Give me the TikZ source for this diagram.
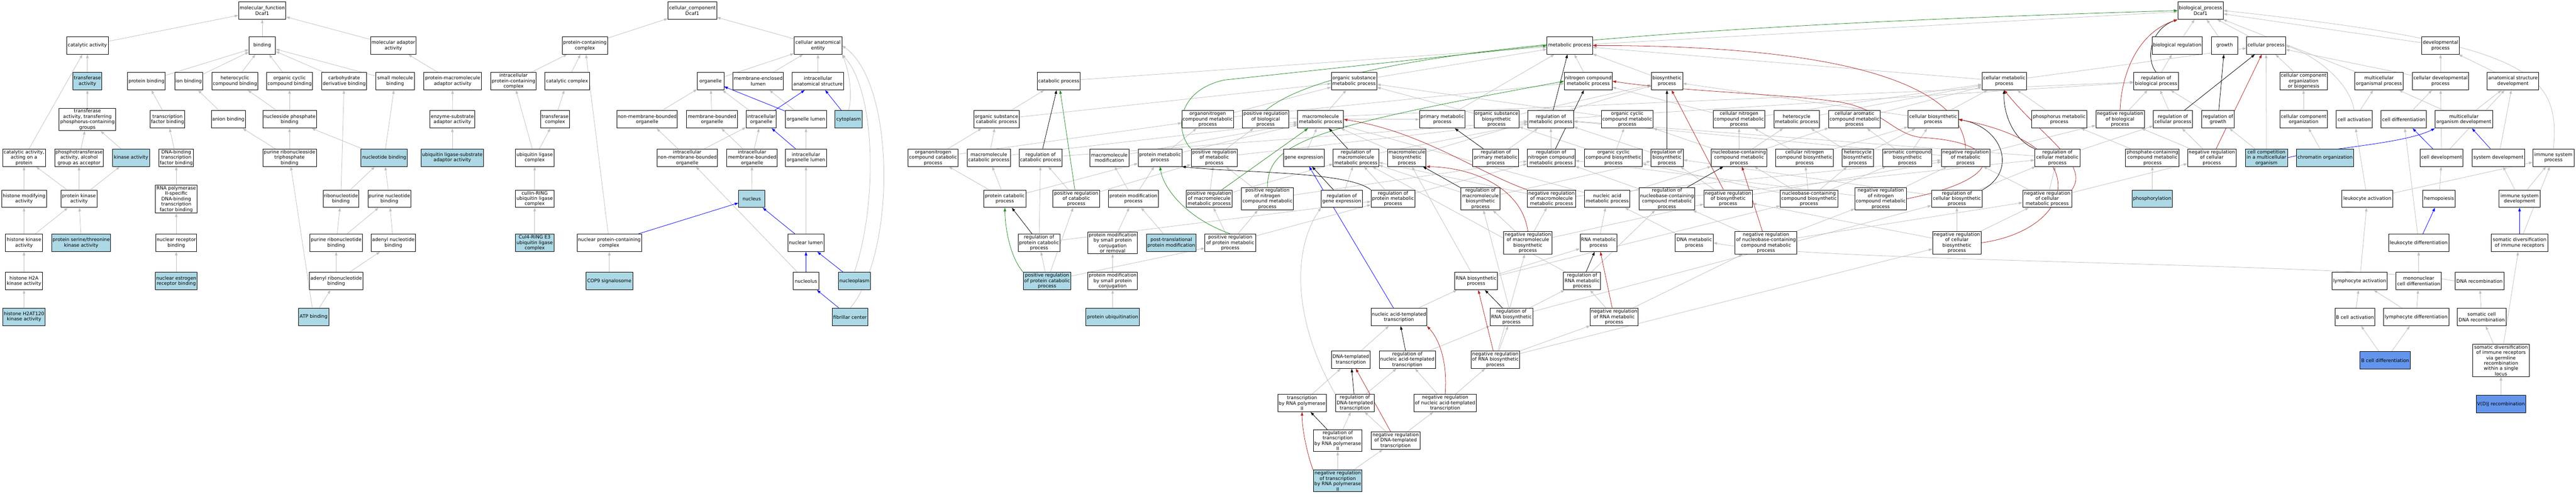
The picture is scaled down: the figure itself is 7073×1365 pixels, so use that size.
\documentclass[tikz,border=0pt]{standalone}
\usepackage{fontspec}
\setmainfont{DejaVu Sans}
\usetikzlibrary{arrows.meta}
\definecolor{lb}{HTML}{ADD8E6}
\definecolor{cfb}{HTML}{6495ED}
\definecolor{eg}{HTML}{C0C0C0}
\definecolor{egreen}{HTML}{228B22}
\definecolor{ered}{HTML}{B22222}
\definecolor{eblue}{HTML}{0000FF}
\pgfdeclarelayer{bg}
\pgfsetlayers{bg,main}
\newcommand{\gn}[6][]{\node[gbox,minimum width=#5pt,#1] (#2) at (#3,#4) {#6};}
\begin{document}
\begin{tikzpicture}[x=1pt,y=-1pt,
 gbox/.style={draw=black,line width=1.3pt,fill=white,rectangle,align=center,inner xsep=2pt,inner ysep=2.5pt,minimum height=48pt,font=\fontsize{13}{14.8}\selectfont},
 hl/.style={fill=lb}, hlb/.style={fill=cfb},
 eisa/.style={draw=eg,line width=1.1pt,-{Triangle[length=10pt,width=7pt]}},
 ereg/.style={draw=black,line width=1.1pt,-{Triangle[length=10pt,width=7pt]}},
 epos/.style={draw=egreen,line width=1.1pt,-{Triangle[length=10pt,width=7pt]}},
 eneg/.style={draw=ered,line width=1.1pt,-{Triangle[length=10pt,width=7pt]}},
 epart/.style={draw=eblue,line width=1.1pt,-{Triangle[length=10pt,width=7pt]}}]
\useasboundingbox (0,0) rectangle (7073,1365);
% ---------------- molecular function
\gn{mf}{720}{29}{130}{molecular\_function\\Dcaf1}
\gn{catact}{240}{125}{115}{catalytic activity}
\gn{binding}{720}{125}{73}{binding}
\gn{molad}{1080}{125}{125}{molecular adaptor\\activity}
\gn[hl]{transf}{240}{223}{80}{transferase\\activity}
\gn{protbind}{402}{223}{104}{protein binding}
\gn{ionbind}{518}{223}{77}{ion binding}
\gn{hetbind}{645}{223}{126}{heterocyclic\\compound binding}
\gn{orgcycbind}{795}{223}{126}{organic cyclic\\compound binding}
\gn{carbbind}{945}{223}{123}{carbohydrate\\derivative binding}
\gn{smallbind}{1085}{223}{107}{small molecule\\binding}
\gn{pmadapt}{1243}{223}{159}{protein-macromolecule\\adaptor activity}
\gn{transfP}{240}{328}{155}{transferase\\activity, transferring\\phosphorus-containing\\groups}
\gn{tfbind}{460}{328}{95}{transcription\\factor binding}
\gn{anionbind}{627}{328}{93}{anion binding}
\gn{nucphosbind}{795}{328}{147}{nucleoside phosphate\\binding}
\gn{esadapt}{1242}{328}{123}{enzyme-substrate\\adaptor activity}
\gn{catprot}{66}{433}{117}{catalytic activity,\\acting on a\\protein}
\gn{phosalc}{217}{433}{133}{phosphotransferase\\activity, alcohol\\group as acceptor}
\gn[hl]{kinase}{360}{433}{102}{kinase activity}
\gn{dnatf}{484}{433}{95}{DNA-binding\\transcription\\factor binding}
\gn{purNTPbind}{795}{433}{147}{purine ribonucleoside\\triphosphate\\binding}
\gn[hl]{ntbind}{1055}{433}{127}{nucleotide binding}
\gn[hl]{ulsadapt}{1242}{433}{172}{ubiquitin ligase-substrate\\adaptor activity}
\gn{histmod}{66}{546}{123}{histone modifying\\activity}
\gn{protkin}{217}{546}{98}{protein kinase\\activity}
\gn{rnap2tf}{484}{547}{114}{RNA polymerase\\II-specific\\DNA-binding\\transcription\\factor binding}
\gn{ribontbind}{936}{546}{98}{ribonucleotide\\binding}
\gn{purntbind}{1069}{546}{118}{purine nucleotide\\binding}
\gn{histkin}{66}{667}{101}{histone kinase\\activity}
\gn[hl]{serthr}{223}{667}{162}{protein serine/threonine\\kinase activity}
\gn{nrbind}{484}{667}{111}{nuclear receptor\\binding}
\gn{purribontbind}{923}{667}{143}{purine ribonucleotide\\binding}
\gn{adenntbind}{1080}{667}{123}{adenyl nucleotide\\binding}
\gn{h2akin}{66}{772}{101}{histone H2A\\kinase activity}
\gn[hl]{nerbind}{484}{772}{115}{nuclear estrogen\\receptor binding}
\gn{adenribontbind}{923}{772}{147}{adenyl ribonucleotide\\binding}
\gn[hl]{h2at120}{66}{870}{116}{histone H2AT120\\kinase activity}
\gn[hl]{atpbind}{861}{870}{84}{ATP binding}
% ---------------- cellular component
\gn{cc}{1901}{29}{134}{cellular\_component\\Dcaf1}
\gn{pcc}{1606}{125}{125}{protein-containing\\complex}
\gn{cae}{2246}{125}{131}{cellular anatomical\\entity}
\gn{ipcc}{1410}{223}{125}{intracellular\\protein-containing\\complex}
\gn{catcomp}{1557}{223}{123}{catalytic complex}
\gn{organelle}{1951}{223}{73}{organelle}
\gn{mel}{2082}{223}{139}{membrane-enclosed\\lumen}
\gn{ias}{2246}{223}{141}{intracellular\\anatomical structure}
\gn{trcomp}{1524}{328}{80}{transferase\\complex}
\gn{nmbo}{1777}{328}{166}{non-membrane-bounded\\organelle}
\gn{mbo}{1955}{328}{139}{membrane-bounded\\organelle}
\gn{io}{2090}{328}{83}{intracellular\\organelle}
\gn{olumen}{2213}{328}{113}{organelle lumen}
\gn[hl]{cytoplasm}{2330}{328}{75}{cytoplasm}
\gn{ulc}{1468}{433}{106}{ubiquitin ligase\\complex}
\gn{inmbo}{1887}{433}{166}{intracellular\\non-membrane-bounded\\organelle}
\gn{imbo}{2065}{433}{139}{intracellular\\membrane-bounded\\organelle}
\gn{iol}{2213}{433}{113}{intracellular\\organelle lumen}
\gn{crulc}{1468}{546}{106}{cullin-RING\\ubiquitin ligase\\complex}
\gn[hl]{nucleus}{2064}{546}{72}{nucleus}
\gn[hl]{cul4}{1468}{667}{106}{Cul4-RING E3\\ubiquitin ligase\\complex}
\gn{npcc}{1673}{667}{177}{nuclear protein-containing\\complex}
\gn{nlumen}{2213}{667}{99}{nuclear lumen}
\gn[hl]{cop9}{1673}{772}{129}{COP9 signalosome}
\gn{nucleolus}{2213}{772}{72}{nucleolus}
\gn[hl]{nucleoplasm}{2346}{772}{89}{nucleoplasm}
\gn[hl]{fibcen}{2334}{871}{97}{fibrillar center}
% ---------------- biological process
\gn{bp}{6042}{29}{125}{biological\_process\\Dcaf1}
\gn{mp}{4310}{125}{125}{metabolic process}
\gn{bioreg}{5978}{125}{138}{biological regulation}
\gn{growth}{6108}{125}{72}{growth}
\gn{cellproc}{6222}{125}{107}{cellular process}
\gn{devproc}{6701}{125}{104}{developmental\\process}
\gn{catab}{2907}{223}{118}{catabolic process}
\gn{osmp}{3718}{223}{125}{organic substance\\metabolic process}
\gn{ncmp}{4361}{223}{131}{nitrogen compound\\metabolic process}
\gn{biosyn}{4577}{223}{86}{biosynthetic\\process}
\gn{cmp}{5503}{223}{122}{cellular metabolic\\process}
\gn{regbp}{5920}{223}{122}{regulation of\\biological process}
\gn{ccob}{6325}{223}{131}{cellular component\\organization\\or biogenesis}
\gn{mop}{6532}{223}{133}{multicellular\\organismal process}
\gn{cdp}{6701}{223}{155}{cellular developmental\\process}
\gn{asd}{6900}{223}{142}{anatomical structure\\development}
\gn{oscp}{2736}{328}{124}{organic substance\\catabolic process}
\gn{oncmp}{3316}{328}{142}{organonitrogen\\compound metabolic\\process}
\gn{prbp}{3475}{328}{127}{positive regulation\\of biological\\process}
\gn{mmp}{3626}{328}{126}{macromolecule\\metabolic process}
\gn{pmp}{3960}{328}{125}{primary metabolic\\process}
\gn{osbp}{4109}{328}{122}{organic substance\\biosynthetic\\process}
\gn{rmp}{4258}{328}{125}{regulation of\\metabolic process}
\gn{occmp}{4468}{328}{142}{organic cyclic\\compound metabolic\\process}
\gn{cncmp}{4775}{328}{141}{cellular nitrogen\\compound metabolic\\process}
\gn{hmp}{4933}{328}{125}{heterocycle\\metabolic process}
\gn{camp}{5092}{328}{142}{cellular aromatic\\compound metabolic\\process}
\gn{cbp}{5308}{328}{138}{cellular biosynthetic\\process}
\gn{phosmp}{5654}{328}{151}{phosphorus metabolic\\process}
\gn{nrbp}{5821}{328}{133}{negative regulation\\of biological\\process}
\gn{rcp}{5966}{328}{107}{regulation of\\cellular process}
\gn{rgrowth}{6090}{328}{89}{regulation of\\growth}
\gn{cco}{6325}{328}{131}{cellular component\\organization}
\gn{cellact}{6464}{328}{98}{cell activation}
\gn{celldiff}{6600}{328}{125}{cell differentiation}
\gn{mod}{6765}{328}{158}{multicellular\\organism development}
\gn{onccp}{2562}{433}{137}{organonitrogen\\compound catabolic\\process}
\gn{mcp}{2715}{433}{118}{macromolecule\\catabolic process}
\gn{rcatp}{2857}{433}{117}{regulation of\\catabolic process}
\gn{mmod}{3046}{433}{107}{macromolecule\\modification}
\gn{protmp}{3185}{433}{120}{protein metabolic\\process}
\gn{prmp}{3334}{433}{127}{positive regulation\\of metabolic\\process}
\gn{geneexp}{3580}{433}{111}{gene expression}
\gn{rmmp}{3723}{433}{125}{regulation of\\macromolecule\\metabolic process}
\gn{mbp}{3863}{433}{105}{macromolecule\\biosynthetic\\process}
\gn{rpmp}{4107}{433}{126}{regulation of\\primary metabolic\\process}
\gn{rncmp}{4259}{433}{130}{regulation of\\nitrogen compound\\metabolic process}
\gn{occbp}{4430}{433}{158}{organic cyclic\\compound biosynthetic\\process}
\gn{rbp}{4577}{433}{89}{regulation of\\biosynthetic\\process}
\gn{nbcmp}{4775}{433}{152}{nucleobase-containing\\compound metabolic\\process}
\gn{cncbp}{4955}{433}{158}{cellular nitrogen\\compound biosynthetic\\process}
\gn{hbp}{5101}{433}{87}{heterocycle\\biosynthetic\\process}
\gn{acbp}{5237}{433}{135}{aromatic compound\\biosynthetic\\process}
\gn{nrmp}{5397}{433}{133}{negative regulation\\of metabolic\\process}
\gn{rcmp}{5649}{433}{124}{regulation of\\cellular metabolic\\process}
\gn{pccmp}{5910}{433}{147}{phosphate-containing\\compound metabolic\\process}
\gn{nrcp}{6073}{433}{133}{negative regulation\\of cellular\\process}
\gn[hl]{cellcomp}{6223}{433}{116}{cell competition\\in a multicellular\\organism}
\gn[hl]{chromorg}{6384}{433}{157}{chromatin organization}
\gn{celldev}{6704}{433}{118}{cell development}
\gn{sysdev}{6860}{433}{144}{system development}
\gn{isp}{7011}{433}{113}{immune system\\process}
\gn{protcat}{2759}{546}{115}{protein catabolic\\process}
\gn{prcatp}{2955}{546}{128}{positive regulation\\of catabolic\\process}
\gn{pmodp}{3112}{546}{136}{protein modification\\process}
\gn{prmmp}{3320}{546}{127}{positive regulation\\of macromolecule\\metabolic process}
\gn{prncmp}{3480}{546}{142}{positive regulation\\of nitrogen\\compound metabolic\\process}
\gn{rge}{3684}{546}{113}{regulation of\\gene expression}
\gn{rprotmp}{3825}{546}{121}{regulation of\\protein metabolic\\process}
\gn{rmbp}{4065}{546}{107}{regulation of\\macromolecule\\biosynthetic\\process}
\gn{nrmmp}{4260}{546}{132}{negative regulation\\of macromolecule\\metabolic process}
\gn{namp}{4413}{546}{124}{nucleic acid\\metabolic process}
\gn{rnbcmp}{4577}{546}{152}{regulation of\\nucleobase-containing\\compound metabolic\\process}
\gn{nrbiop}{4745}{546}{133}{negative regulation\\of biosynthetic\\process}
\gn{nbcbp}{4967}{546}{158}{nucleobase-containing\\compound biosynthetic\\process}
\gn{nrncmp}{5164}{546}{142}{negative regulation\\of nitrogen\\compound metabolic\\process}
\gn{rcbp}{5373}{546}{139}{regulation of\\cellular biosynthetic\\process}
\gn{nrcmp}{5621}{546}{134}{negative regulation\\of cellular\\metabolic process}
\gn[hl]{phosph}{5909}{546}{111}{phosphorylation}
\gn{leukact}{6500}{546}{139}{leukocyte activation}
\gn{hemo}{6697}{546}{89}{hemopoiesis}
\gn{isd}{6918}{546}{113}{immune system\\development}
\gn{rprotcat}{2853}{667}{114}{regulation of\\protein catabolic\\process}
\gn{pmsp}{3055}{667}{136}{protein modification\\by small protein\\conjugation\\or removal}
\gn[hl]{ptm}{3216}{667}{137}{post-translational\\protein modification}
\gn{prprotmp}{3378}{667}{139}{positive regulation\\of protein metabolic\\process}
\gn{nrmbp}{4195}{667}{133}{negative regulation\\of macromolecule\\biosynthetic\\process}
\gn{rnamp}{4389}{667}{101}{RNA metabolic\\process}
\gn{dnamp}{4652}{667}{104}{DNA metabolic\\process}
\gn{nrnbcmp}{4849}{667}{170}{negative regulation\\of nucleobase-containing\\compound metabolic\\process}
\gn{nrcbp}{5373}{667}{133}{negative regulation\\of cellular\\biosynthetic\\process}
\gn{leukdiff}{6641}{667}{166}{leukocyte differentiation}
\gn{sdir}{6918}{667}{155}{somatic diversification\\of immune receptors}
\gn[hl]{prprotcat}{2875}{772}{131}{positive regulation\\of protein catabolic\\process}
\gn{pmspc}{3055}{772}{136}{protein modification\\by small protein\\conjugation}
\gn{rnabp}{4053}{772}{118}{RNA biosynthetic\\process}
\gn{rrnamp}{4344}{772}{102}{regulation of\\RNA metabolic\\process}
\gn{lymact}{6479}{772}{152}{lymphocyte activation}
\gn{mcdiff}{6641}{772}{125}{mononuclear\\cell differentiation}
\gn{dnarec}{6808}{772}{134}{DNA recombination}
\gn[hl]{protubiq}{3055}{871}{147}{protein ubiquitination}
\gn{natt}{3841}{871}{153}{nucleic acid-templated\\transcription}
\gn{rrnabp}{4150}{871}{117}{regulation of\\RNA biosynthetic\\process}
\gn{nrrnamp}{4432}{871}{130}{negative regulation\\of RNA metabolic\\process}
\gn{bcellact}{6466}{871}{110}{B cell activation}
\gn{lymdiff}{6634}{871}{179}{lymphocyte differentiation}
\gn{scdnarec}{6814}{871}{133}{somatic cell\\DNA recombination}
\gn{dnatt}{3709}{988}{106}{DNA-templated\\transcription}
\gn{rnatt}{3864}{988}{154}{regulation of\\nucleic acid-templated\\transcription}
\gn{nrrnabp}{4106}{988}{133}{negative regulation\\of RNA biosynthetic\\process}
\gn[hlb]{bcelldiff}{6549}{990}{139}{B cell differentiation}
\gn{sdgerm}{6867}{990}{155}{somatic diversification\\of immune receptors\\via germline\\recombination\\within a single\\locus}
\gn{tpol2}{3575}{1107}{133}{transcription\\by RNA polymerase\\II}
\gn{rdtt}{3720}{1107}{106}{regulation of\\DNA-templated\\transcription}
\gn{nrnatt}{3968}{1107}{171}{negative regulation\\of nucleic acid-templated\\transcription}
\gn[hlb]{vdj}{6867}{1110}{137}{V(D)J recombination}
\gn{rtpol2}{3673}{1210}{134}{regulation of\\transcription\\by RNA polymerase\\II}
\gn{nrdtt}{3832}{1210}{134}{negative regulation\\of DNA-templated\\transcription}
\gn[hl]{nrtpol2}{3673}{1321}{134}{negative regulation\\of transcription\\by RNA polymerase\\II}
% ---------------- edges
\begin{pgfonlayer}{bg}
\fill[white] (0,0) rectangle (7073,1365);
\foreach \a/\b in {catact/mf, binding/mf, molad/mf, transf/catact, protbind/binding, ionbind/binding, hetbind/binding, orgcycbind/binding, carbbind/binding, smallbind/binding, pmadapt/molad, transfP/transf, tfbind/protbind, anionbind/ionbind, nucphosbind/hetbind, nucphosbind/orgcycbind, esadapt/pmadapt, catprot/catact, phosalc/transfP, kinase/transfP, dnatf/tfbind, purNTPbind/anionbind, purNTPbind/nucphosbind, ntbind/nucphosbind, ntbind/smallbind, ulsadapt/esadapt, histmod/catprot, protkin/catprot, protkin/phosalc, protkin/kinase, rnap2tf/dnatf, ribontbind/ntbind, ribontbind/carbbind, purntbind/ntbind, histkin/histmod, histkin/protkin, serthr/protkin, nrbind/rnap2tf, purribontbind/ribontbind, purribontbind/purntbind, adenntbind/purntbind, h2akin/histkin, nerbind/nrbind, adenribontbind/purribontbind, adenribontbind/adenntbind, h2at120/h2akin, atpbind/purNTPbind, atpbind/adenribontbind}
  \draw[eisa] (\a) -- (\b);
\foreach \a/\b in {pcc/cc, cae/cc, ipcc/pcc, catcomp/pcc, trcomp/catcomp, ulc/ipcc, ulc/trcomp, crulc/ulc, cul4/crulc, npcc/pcc, cop9/npcc, organelle/cae, mel/cae, ias/cae, nmbo/organelle, mbo/organelle, io/organelle, olumen/mel, inmbo/nmbo, inmbo/io, imbo/mbo, imbo/io, iol/olumen, nucleus/imbo, nlumen/iol, nucleolus/inmbo}
  \draw[eisa] (\a) -- (\b);
\foreach \a/\b in {io/ias, olumen/organelle, iol/io, npcc/nucleus, nlumen/nucleus, nucleolus/nlumen, cytoplasm/ias, nucleoplasm/nlumen, fibcen/nucleolus, natt/geneexp, celldev/celldiff, sysdev/mod, leukdiff/hemo, sdir/isd}
  \draw[epart] (\a) -- (\b);
\draw[eisa] (cytoplasm.north) .. controls (2342,260) and (2330,190) .. (cae.south east);
\draw[eisa] (nucleoplasm.north) .. controls (2410,560) and (2405,250) .. (cae.south east);
\draw[eisa] (fibcen.north) .. controls (2460,700) and (2460,230) .. (cae.east);
\foreach \a/\b in {mp/bp, bioreg/bp, growth/bp, cellproc/bp, devproc/bp, mop/bp, regbp/bioreg, nrbp/regbp, prbp/regbp, catab/mp, osmp/mp, ncmp/mp, pmp/mp, biosyn/mp, cmp/mp, cmp/cellproc, rmp/regbp, rcp/regbp, rgrowth/regbp, nrcp/rcp, nrcp/nrbp, cellcomp/cellproc, cellcomp/rgrowth, ccob/cellproc, cco/ccob, chromorg/cco, cellact/mop, cdp/devproc, cdp/cellproc, asd/devproc, celldiff/cdp, mod/mop, mod/asd, celldev/cdp, celldev/asd, sysdev/asd, leukact/cellact, leukact/isp, hemo/celldev, isd/sysdev, isd/isp, sdir/isp, leukdiff/celldiff, mcdiff/leukdiff, lymact/leukact, scdnarec/dnarec, lymdiff/lymact, lymdiff/mcdiff, bcellact/lymact, bcelldiff/bcellact, bcelldiff/lymdiff, sdgerm/scdnarec, sdgerm/sdir, vdj/sdgerm, phosmp/cmp, pccmp/phosmp, phosph/pccmp, rcmp/rmp, rcmp/rcp, nrcmp/rcmp, nrcmp/nrcp, nrcmp/nrmp}
  \draw[eisa] (\a) -- (\b);
\foreach \a/\b in {oscp/catab, oscp/osmp, onccp/oscp, onccp/oncmp, mcp/oscp, mcp/mmp, rcatp/rmp, mmod/mmp, protmp/oncmp, protmp/mmp, prmp/rmp, prmp/prbp, protcat/onccp, protcat/mcp, protcat/protmp, prcatp/rcatp, prcatp/prmp, pmodp/mmod, pmodp/protmp, prmmp/prmp, prmmp/rmmp, rprotcat/rcatp, rprotcat/rprotmp, pmsp/pmodp, ptm/pmodp, prprotmp/prmmp, prprotmp/prncmp, prprotmp/rprotmp, prprotcat/rprotcat, prprotcat/prcatp, prprotcat/prprotmp, pmspc/pmsp, protubiq/pmspc}
  \draw[eisa] (\a) -- (\b);
\foreach \a/\b in {oncmp/ncmp, oncmp/osmp, mmp/osmp, mmp/pmp, geneexp/mmp, rmmp/rmp, mbp/mmp, mbp/biosyn, osbp/osmp, osbp/biosyn, rpmp/rmp, rncmp/rmp, occmp/osmp, occbp/occmp, occbp/osbp, rbp/rmp, cncmp/ncmp, cncmp/cmp, hmp/cmp, camp/cmp, nbcmp/cncmp, nbcmp/hmp, nbcmp/camp, nbcmp/occmp, cncbp/cncmp, cncbp/cbp, hbp/hmp, hbp/cbp, acbp/camp, acbp/cbp, cbp/biosyn, cbp/cmp, nrmp/rmp, nrmp/nrbp, prncmp/prmp, prncmp/rncmp, rge/rmmp, rprotmp/rmmp, rprotmp/rncmp, rmbp/rmmp, rmbp/rbp, nrmmp/rmmp, nrmmp/nrmp, namp/nbcmp, namp/mmp, rnbcmp/rncmp, rnbcmp/rcmp, nrbiop/rbp, nrbiop/nrmp}
  \draw[eisa] (\a) -- (\b);
\foreach \a/\b in {nbcbp/nbcmp, nbcbp/cncbp, nbcbp/hbp, nbcbp/acbp, nbcbp/occbp, nrncmp/nrmp, nrncmp/rncmp, rcbp/rbp, rcbp/rcmp, nrmbp/rmbp, nrmbp/nrmmp, nrmbp/nrbiop, rnamp/namp, dnamp/namp, nrnbcmp/rnbcmp, nrnbcmp/nrncmp, nrnbcmp/nrcmp, nrcbp/rcbp, nrcbp/nrbiop, nrcbp/nrcmp, rnabp/rnamp, rnabp/mbp, rnabp/nbcbp, rrnamp/rmmp, rrnamp/rnbcmp, natt/rnabp, rrnabp/rrnamp, rrnabp/rmbp, rrnabp/rcbp, nrrnamp/rrnamp, nrrnamp/nrnbcmp, dnatt/natt, rnatt/rrnabp, nrrnabp/rrnabp, nrrnabp/nrrnamp, nrrnabp/nrmbp, nrrnabp/nrcbp, tpol2/dnatt, rdtt/rnatt, nrnatt/rnatt, nrnatt/nrrnabp, rtpol2/rdtt, nrdtt/rdtt, nrdtt/nrnatt, nrtpol2/rtpol2, nrtpol2/nrdtt}
  \draw[eisa] (\a) -- (\b);
\draw[eisa] (rdtt.north west) .. controls (3560,900) and (3540,700) .. (rge.south west);
\draw[eisa] (isp.north) .. controls (7030,200) and (6950,120) .. (bp.east);
\draw[eisa] (cellact.north) .. controls (6450,220) and (6350,150) .. (cellproc.east);
\draw[eisa] (dnarec.west) .. controls (6500,722) and (5000,722) .. (dnamp.east);
\draw[epart] (cellcomp.east) .. controls (6400,405) and (6600,395) .. (mod.south west);
% regulates
\foreach \a/\b in {rcp/cellproc, rgrowth/growth, rmp/mp, rcatp/catab, rprotcat/protcat, rmmp/mmp, rge/geneexp, rmbp/mbp, rpmp/pmp, rncmp/ncmp, rbp/biosyn, rnbcmp/nbcmp, rrnamp/rnamp, rrnabp/rnabp, rnatt/natt, rdtt/dnatt, rtpol2/tpol2}
  \draw[ereg] (\a) -- (\b);
\draw[ereg] (regbp.north) .. controls (5890,160) and (5905,80) .. (bp.south west);
\draw[ereg] (rcmp.north west) .. controls (5520,380) and (5500,300) .. (cmp.south);
\draw[ereg] (rcbp.north east) .. controls (5540,470) and (5500,350) .. (cbp.east);
\draw[ereg] (rprotmp.north west) .. controls (3700,470) and (3400,475) .. (protmp.south east);
% positively regulates
\foreach \a/\b in {prcatp/catab, prmmp/mmp}
  \draw[epos] (\a) -- (\b);
\draw[epos] (prbp.north) .. controls (3650,160) and (4300,80) .. (bp.west);
\draw[epos] (prmp.north west) .. controls (3225,360) and (3230,250) .. (3360,220) -- (mp.west);
\draw[epos] (prncmp.north) .. controls (3480,390) and (3600,350) .. (ncmp.west);
\draw[epos] (prprotmp.north) .. controls (3260,600) and (3195,520) .. (protmp.south);
\draw[epos] (prprotcat.north west) .. controls (2770,700) and (2760,620) .. (protcat.south);
% negatively regulates
\foreach \a/\b in {nrcp/cellproc, nrbiop/biosyn, nrnbcmp/nbcmp, nrrnamp/rnamp, nrrnabp/rnabp, nrdtt/dnatt}
  \draw[eneg] (\a) -- (\b);
\draw[eneg] (nrbp.north) .. controls (5825,200) and (5870,90) .. (bp.south west);
\draw[eneg] (nrmp.north) .. controls (5390,260) and (5150,125) .. (mp.east);
\draw[eneg] (nrcmp.north east) .. controls (5740,450) and (5600,370) .. (cmp.south);
\draw[eneg] (nrcbp.east) .. controls (5700,630) and (5760,400) .. (cbp.east);
\draw[eneg] (nrncmp.east) .. controls (5520,490) and (5500,390) .. (5280,378) .. controls (5200,372) and (5170,300) .. (5050,280) .. controls (4900,258) and (4600,250) .. (ncmp.east);
\draw[eneg] (nrmmp.north west) .. controls (4050,470) and (3900,360) .. (mmp.east);
\draw[eneg] (nrmbp.north) .. controls (4180,520) and (4050,460) .. (mbp.south east);
\draw[eneg] (nrnatt.north) .. controls (3975,990) and (3950,930) .. (natt.south east);
\draw[eneg] (nrtpol2.north west) .. controls (3590,1250) and (3575,1180) .. (tpol2.south);
\end{pgfonlayer}
\end{tikzpicture}
\end{document}
